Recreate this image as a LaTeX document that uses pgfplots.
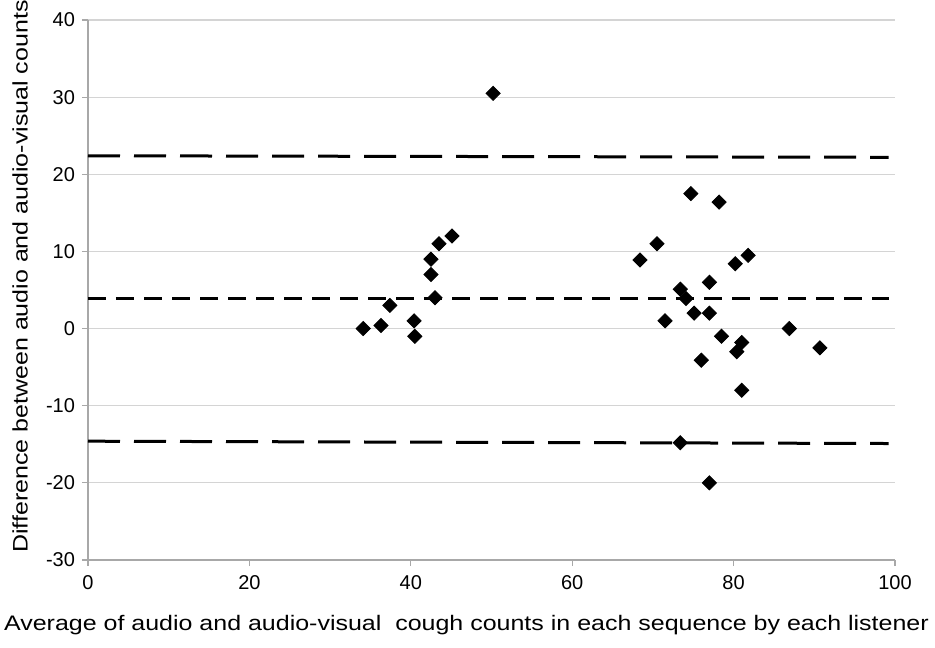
\documentclass[border=0pt]{standalone}
\usepackage{fontspec}
\setmainfont{Liberation Sans}
\newfontfamily\labelfont{Liberation Sans}[FakeStretch=1.19]
\usepackage{pgfplots}
\pgfplotsset{compat=1.18}
\definecolor{gridGray}{HTML}{D4D4D4}
\definecolor{axGray}{HTML}{A8A8A8}

\begin{document}
\begin{tikzpicture}
\begin{axis}[
  name=ax,
  scale only axis,
  width=403.5pt, height=270pt,
  xmin=0, xmax=100, ymin=-30, ymax=40,
  xtick={0,20,...,100},
  ytick={-30,-20,...,40},
  axis x line*=bottom, axis y line*=left,
  axis line style={draw=axGray, line width=0.6pt, -},
  major tick length=3pt,
  tick style={draw=axGray, line width=0.6pt},
  tick align=outside,
  ymajorgrids, xmajorgrids=false,
  grid style={draw=gridGray, line width=0.6pt},
  /pgf/number format/assume math mode=true,
  tick label style={font=\fontsize{10}{12}\selectfont},
  yticklabel style={xshift=0pt},
  xticklabel style={yshift=-1pt},
  label style={font=\labelfont\fontsize{10.5}{12}\selectfont},
  xlabel={Average of audio and audio-visual\ \ cough counts in each sequence by each listener},
  ylabel={Difference between audio and audio-visual counts},
  xlabel style={at={(axis description cs:0.469,0)}, anchor=center, yshift=-32.5pt},
  ylabel style={at={(axis description cs:0,0.525)}, anchor=center, yshift=34pt},
  clip=false,
]
% limits of agreement and mean difference
\addplot[black, line width=1.5pt, dash pattern=on 16pt off 7pt] coordinates {(0,22.4) (99.2,22.2)};
\addplot[black, line width=1.5pt, dash pattern=on 9pt off 5pt] coordinates {(0,3.9) (99.2,3.9)};
\addplot[black, line width=1.5pt, dash pattern=on 16pt off 7pt] coordinates {(0,-14.6) (99.2,-14.9)};
% differences
\addplot[only marks, mark=square*, mark size=2.5pt, mark options={rotate=45, fill=black, draw=black}] coordinates {
  (34.1,0) (36.3,0.4) (37.4,3) (40.4,1) (40.5,-1)
  (42.5,9) (42.5,7) (43.0,4) (43.5,11) (45.1,12) (50.2,30.5)
  (74.7,17.5) (78.2,16.4) (70.5,11.0) (68.4,8.9) (81.8,9.5) (80.2,8.4)
  (77.0,6.0) (73.4,5.1) (74.1,3.9) (75.1,2.0) (77.0,2.0) (71.5,1.0)
  (86.9,0) (78.5,-1) (81.0,-1.8) (80.4,-3.0) (90.7,-2.5) (76.0,-4.1)
  (81.0,-8.0) (73.4,-14.8) (77.0,-20.0)
};
\end{axis}
\pgfresetboundingbox
\path ([shift={(-44pt,-43.5pt)}]ax.south west) rectangle ([shift={(-44pt,-43.5pt)}]ax.south west) ++(467.5pt,323.5pt);
\end{tikzpicture}
\end{document}
